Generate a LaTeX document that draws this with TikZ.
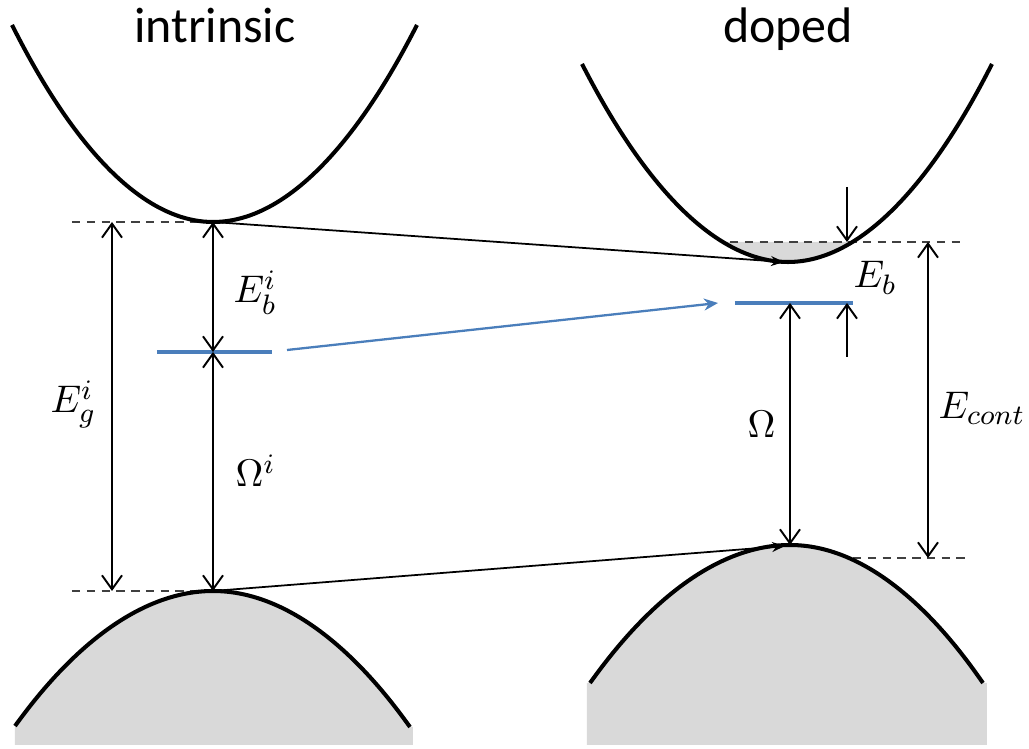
\documentclass[tikz,border=0pt]{standalone}
\usepackage{fontspec}
\setmainfont{Carlito}
\usepackage{tikz}
\usetikzlibrary{arrows.meta}
\definecolor{bandGrey}{HTML}{D9D9D9}
\definecolor{levelBlue}{HTML}{4A7EBB}
\definecolor{dashGrey}{HTML}{404040}
\tikzset{
  band/.style   = {draw=black, line width=1.15pt},
  grayfill/.style = {fill=bandGrey},
  lvl/.style    = {draw=dashGrey, line width=0.65pt, dash pattern=on 2.4pt off 1.8pt},
  dimarr/.style = {{Straight Barb[length=1.4mm,width=2mm]}-{Straight Barb[length=1.4mm,width=2mm]}, line width=0.55pt},
  onearr/.style = {-{Straight Barb[length=1.4mm,width=2mm]}, line width=0.55pt},
  hop/.style    = {-{Stealth[length=1.3mm,width=1mm]}, line width=0.5pt},
  exc/.style    = {draw=levelBlue, line width=0.9pt},
  excarr/.style = {-{Stealth[length=1.4mm,width=1.2mm]}, draw=levelBlue, line width=0.65pt},
  ttl/.style    = {font=\fontsize{14.2}{17}\selectfont, anchor=base, inner sep=0pt},
  sym/.style    = {font=\fontsize{11}{13}\selectfont, anchor=base west, inner sep=0pt}
}

\begin{document}
\begin{tikzpicture}[x=0.01cm, y=-0.01cm]
  \useasboundingbox (0,0) rectangle (1029,749);
  % band extrema
  \coordinate (cbi) at (213,222);
  \coordinate (vbi) at (213,591);
  \coordinate (exi) at (213,352);
  \coordinate (cbd) at (788,262);
  \coordinate (vbd) at (790,545);
  \coordinate (exd) at (790,303);
  \coordinate (gx) at (112,0);
  \coordinate (ctop) at (928,242);
  \coordinate (cbot) at (928,558);
  \coordinate (ebtop) at (847,187);
  \coordinate (ebup) at (847,242);
  \coordinate (ebbot) at (847,357);
  \coordinate (ebdn) at (847,303);
  \coordinate (hopc) at (784,262);
  \coordinate (hopv) at (785,546);

  % filled regions
  \fill[grayfill] (15,745) -- (15,726) parabola bend (vbi) (410,727) -- (413,727) -- (413,745) -- cycle;
  \fill[grayfill] (587,745) -- (587,683) -- (590,683) parabola bend (vbd) (983,683) -- (987,683) -- (987,745) -- cycle;
  \fill[grayfill] (723,242) parabola bend (cbd) (853,242) -- cycle;

  % levels
  \draw[lvl] (72,222) -- (cbi);
  \draw[lvl] (72,591) -- (vbi);
  \draw[lvl] (730,242) -- (963,242);
  \draw[lvl] (853,558) -- (965,558);

  % bands
  \draw[band] (12,25) parabola bend (cbi) (417,25);
  \draw[band] (15,726) parabola bend (vbi) (410,727);
  \draw[band] (582,64) parabola bend (cbd) (992,64);
  \draw[band] (590,683) parabola bend (vbd) (983,683);

  % shifts between the two cases
  \draw[hop] (cbi) -- (hopc);
  \draw[hop] (vbi) -- (hopv);
  \draw[exc] (157,352) -- (272,352);
  \draw[excarr] (287,350) -- (718,303);
  \draw[exc] (735,303) -- (853,303);

  % energies
  \draw[dimarr] (gx |- cbi) -- (gx |- vbi);
  \draw[dimarr] (cbi) -- (exi);
  \draw[dimarr] (exi) -- (vbi);
  \draw[dimarr] (exd) -- (vbd);
  \draw[dimarr] (ctop) -- (cbot);
  \draw[onearr] (ebtop) -- (ebup);
  \draw[onearr] (ebbot) -- (ebdn);

  % labels
  \node[ttl] (intr) at (215,43) {intrinsic};
  \node[ttl] (dop) at (788,43) {doped};
  \node[sym] (lEbi) at (233,303) {$E_b^i$};
  \node[sym] (lEgi) at (50,413) {$E_g^i$};
  \node[sym] (lOmi) at (235,487) {$\Omega^i$};
  \node[sym] (lOm) at (747,438) {$\Omega$};
  \node[sym] (lEb) at (853,288) {$E_b$};
  \node[sym] (lEc) at (938,419) {$E_{cont}$};
\end{tikzpicture}
\end{document}
